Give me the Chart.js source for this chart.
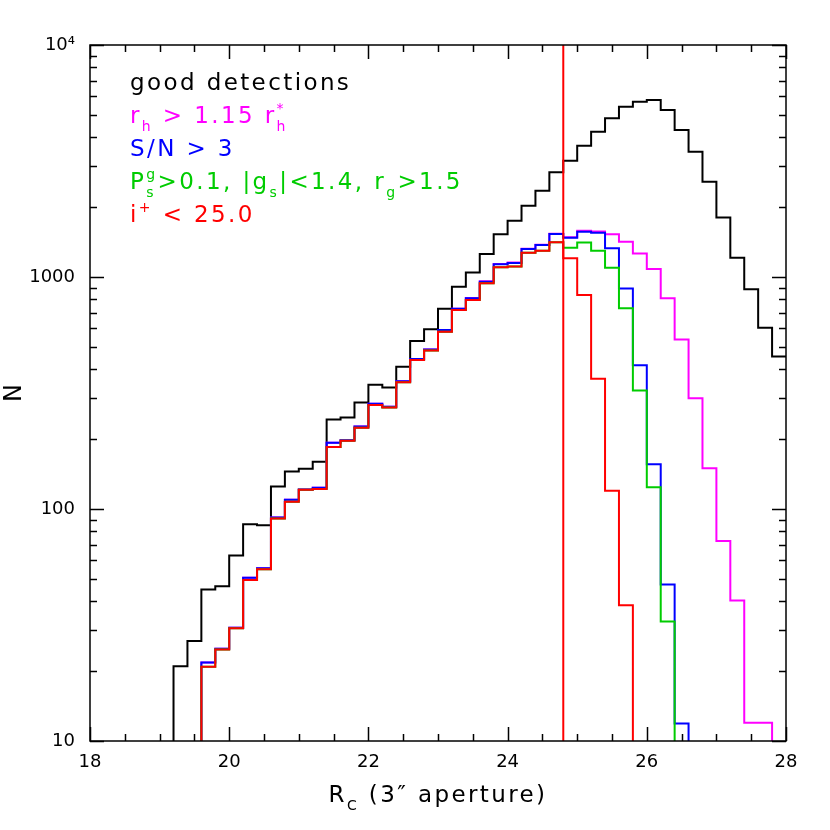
<!DOCTYPE html>
<html>
<head>
<meta charset="utf-8">
<script src="https://cdn.jsdelivr.net/npm/chart.js@4.4.1/dist/chart.umd.min.js"></script>
<style>
  html, body { margin: 0; padding: 0; background: #fff; }
</style>
</head>
<body>
<canvas id="hist" width="830" height="830"></canvas>
<script>
// bin left edges (0.2 mag bins)
const EDGES = [19.2, 19.4, 19.6, 19.8, 20.0, 20.2, 20.4, 20.6, 20.8, 21.0,
               21.2, 21.4, 21.6, 21.8, 22.0, 22.2, 22.4, 22.6, 22.8, 23.0,
               23.2, 23.4, 23.6, 23.8, 24.0, 24.2, 24.4, 24.6, 24.8, 25.0,
               25.2, 25.4, 25.6, 25.8, 26.0, 26.2, 26.4, 26.6, 26.8, 27.0,
               27.2, 27.4, 27.6, 27.8];
const BIN = 0.2;

const goodDetections = [21, 27, 45, 46.5, 63, 86, 85, 125, 145, 149,
                        160, 243, 248, 288, 343, 334, 410, 530, 595, 729,
                        908, 1045, 1257, 1529, 1749, 2030, 2355, 2827, 3172, 3680,
                        4230, 4830, 5420, 5700, 5800, 5250, 4300, 3467, 2576, 1806,
                        1211, 885, 604, 454];
const sizeCut = [null, null, 21.8, 25, 30.8, 50.5, 55.5, 92, 109.5, 121.5,
                 123.5, 193, 198, 227, 284, 276, 355, 443, 487, 591,
                 730, 812, 958, 1138, 1155, 1325, 1378, 1536, 1485, 1583,
                 1570, 1529, 1419, 1264, 1082, 809, 538, 300, 150, 72.8,
                 40.3, 12, 12, null];
const snCut = [null, null, 21.8, 25, 30.8, 50.5, 55.5, 92, 109.5, 121.5,
               123.5, 193, 198, 227, 284, 276, 355, 443, 487, 591,
               730, 809, 954, 1135, 1150, 1321, 1374, 1532, 1478, 1567,
               1552, 1330, 893, 416, 156, 47.3, 11.9, null, null, null,
               null, null, null, null];
const shapeCut = [null, null, 20.9, 24.8, 30.6, 49.4, 55, 91, 107.5, 121,
                  122, 185, 197, 224, 281, 274, 352, 439, 482, 581,
                  721, 796, 939, 1102, 1110, 1273, 1298, 1412, 1337, 1407,
                  1298, 1097, 733, 324, 124, 32.7, null, null, null, null,
                  null, null, null, null];
const iCut = [null, null, 20.9, 24.8, 30.6, 49.4, 55, 91, 107.5, 121,
              122, 185, 197, 224, 281, 274, 352, 439, 482, 581,
              721, 796, 939, 1102, 1110, 1273, 1298, 1412, 1205, 836,
              364, 120, 38.5, null, null, null, null, null, null, null,
              null, null, null, null];

const CUT_MAG = 24.8;
const X_MIN = 18, X_MAX = 28;
const Y_MIN = 10, Y_MAX = 10000;
const FLOOR = 1;   // drops the outline below the axis

const FONT = '"DejaVu Sans", sans-serif';
const MAGENTA = '#ff00ff', BLUE = '#0000ff', GREEN = '#00cc00', RED = '#ff0000';

// text block in the upper left
const NOTE_LINES = [
  { color: '#000000', parts: [{ t: 'good detections' }] },
  { color: MAGENTA, parts: [{ t: 'r' }, { sub: 'h' }, { t: ' > 1.15 r' }, { sub: 'h', sup: '*' }] },
  { color: BLUE, parts: [{ t: 'S/N > 3' }] },
  { color: GREEN, parts: [{ t: 'P' }, { sub: 's', sup: 'g' }, { t: '>0.1, |g' }, { sub: 's' },
                          { t: '|<1.4, r' }, { sub: 'g' }, { t: '>1.5' }] },
  { color: RED, parts: [{ t: 'i' }, { sup: '+' }, { t: ' < 25.0' }] }
];
const X_TITLE = [{ t: 'R' }, { sub: 'C' }, { t: ' (3\u2033 aperture)' }];

// turn a list of bin heights into a closed step outline
function histPoints(vals) {
  const first = vals.findIndex(v => v != null);
  let last = first;
  vals.forEach((v, i) => { if (v != null) last = i; });
  const pts = [{ x: EDGES[first], y: FLOOR }];
  for (let i = first; i <= last; i++) pts.push({ x: EDGES[i], y: vals[i] });
  const end = +(EDGES[last] + BIN).toFixed(2);
  pts.push({ x: end, y: end >= X_MAX ? vals[last] : FLOOR });
  return pts;
}

function histSet(label, vals, color, order) {
  return {
    label: label,
    data: histPoints(vals),
    borderColor: color,
    borderWidth: 2,
    pointRadius: 0,
    stepped: true,
    fill: false,
    order: order
  };
}

function drawRich(ctx, parts, x, y, size, measureOnly) {
  const small = Math.round(size * 0.62);
  let cx = x;
  for (const p of parts) {
    if (p.t) {
      ctx.font = size + 'px ' + FONT;
      if (!measureOnly) ctx.fillText(p.t, cx, y);
      cx += ctx.measureText(p.t).width;
    } else {
      ctx.font = small + 'px ' + FONT;
      let w = 0;
      if (p.sub) {
        if (!measureOnly) ctx.fillText(p.sub, cx, y + size * 0.34);
        w = ctx.measureText(p.sub).width;
      }
      if (p.sup) {
        if (!measureOnly) ctx.fillText(p.sup, cx, y - size * 0.42);
        w = Math.max(w, ctx.measureText(p.sup).width);
      }
      cx += w;
    }
  }
  return cx - x;
}

// IDL style frame: inward ticks on all four sides, plus the text block
const framePlugin = {
  id: 'framePlugin',
  afterDatasetsDraw(chart) {
    const { ctx, chartArea: a, scales: { x, y } } = chart;
    ctx.save();
    ctx.strokeStyle = '#000';
    ctx.lineWidth = 1.5;
    ctx.strokeRect(a.left, a.top, a.right - a.left, a.bottom - a.top);

    ctx.beginPath();
    for (let k = 0; k <= (X_MAX - X_MIN) * 2; k++) {
      const v = X_MIN + k * 0.5;
      const px = Math.round(x.getPixelForValue(v)) + 0.5;
      const len = (k % 4 === 0) ? 14 : 7;
      ctx.moveTo(px, a.bottom); ctx.lineTo(px, a.bottom - len);
      ctx.moveTo(px, a.top); ctx.lineTo(px, a.top + len);
    }
    for (let d = Y_MIN; d <= Y_MAX; d *= 10) {
      for (let m = 1; m <= 9; m++) {
        const v = d * m;
        if (v > Y_MAX) break;
        const py = Math.round(y.getPixelForValue(v)) + 0.5;
        const len = m === 1 ? 14 : 7;
        ctx.moveTo(a.left, py); ctx.lineTo(a.left + len, py);
        ctx.moveTo(a.right, py); ctx.lineTo(a.right - len, py);
      }
    }
    ctx.stroke();

    ctx.letterSpacing = '2.4px';
    ctx.textBaseline = 'alphabetic';
    ctx.textAlign = 'left';
    NOTE_LINES.forEach((line, i) => {
      ctx.fillStyle = line.color;
      drawRich(ctx, line.parts, 130, 90 + i * 33, 23);
    });

    ctx.fillStyle = '#000';
    const w = drawRich(ctx, X_TITLE, 0, 0, 23, true);
    drawRich(ctx, X_TITLE, (a.left + a.right) / 2 - w / 2, 802, 23);
    ctx.restore();
  }
};

const ctx = document.getElementById('hist').getContext('2d');
new Chart(ctx, {
  type: 'line',
  data: {
    datasets: [
      {
        label: 'i+ cut',
        data: [{ x: CUT_MAG, y: Y_MIN }, { x: CUT_MAG, y: Y_MAX }],
        borderColor: RED,
        borderWidth: 2,
        pointRadius: 0,
        order: 0
      },
      histSet('i+ < 25.0', iCut, RED, 1),
      histSet('P, |g|, r_g', shapeCut, GREEN, 2),
      histSet('S/N > 3', snCut, BLUE, 3),
      histSet('r_h > 1.15 r_h*', sizeCut, MAGENTA, 4),
      histSet('good detections', goodDetections, '#000000', 5)
    ]
  },
  options: {
    responsive: false,
    animation: false,
    layout: { padding: { top: 45, right: 44, left: 0, bottom: 0 } },
    plugins: {
      legend: { display: false },
      tooltip: { enabled: false }
    },
    scales: {
      x: {
        type: 'linear',
        min: X_MIN,
        max: X_MAX,
        grid: { display: false, drawTicks: false },
        border: { display: false },
        ticks: {
          stepSize: 2,
          padding: 11,
          color: '#000',
          font: { family: FONT, size: 18 }
        },
        afterFit(s) { s.height = 89; }
      },
      y: {
        type: 'logarithmic',
        min: Y_MIN,
        max: Y_MAX,
        grid: { display: false, drawTicks: false },
        border: { display: false },
        title: {
          display: true,
          text: 'N',
          color: '#000',
          font: { family: FONT, size: 24 },
          padding: { top: 0, bottom: 0 }
        },
        ticks: {
          autoSkip: false,
          padding: 15,
          color: '#000',
          font: { family: FONT, size: 18 },
          callback(v) {
            const l = Math.log10(v);
            if (Math.abs(l - Math.round(l)) > 1e-9) return '';
            return v === 10000 ? '10\u2074' : String(v);
          }
        },
        afterFit(s) { s.width = 90; }
      }
    }
  },
  plugins: [framePlugin]
});
</script>
</body>
</html>
